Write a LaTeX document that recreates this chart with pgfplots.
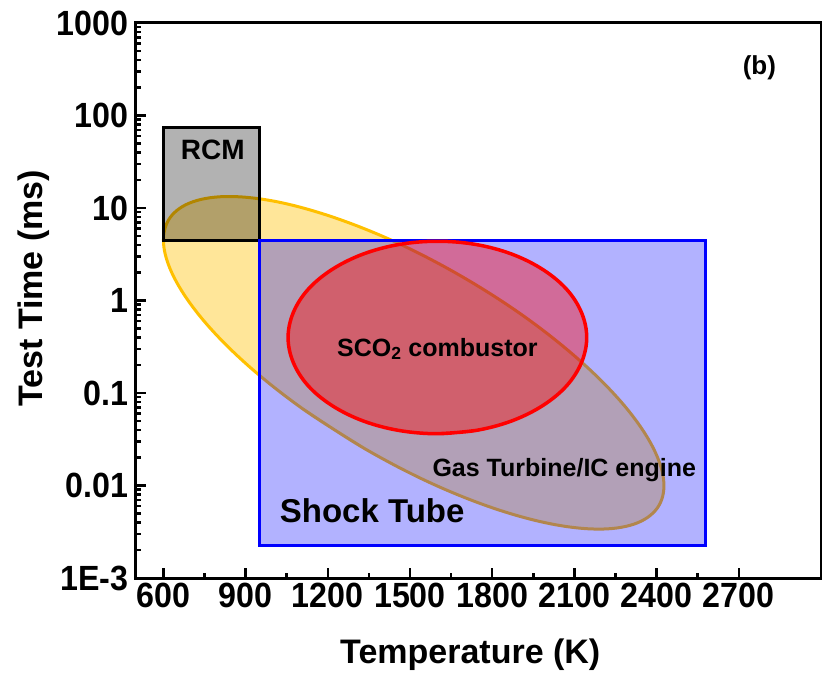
\documentclass[border=0pt]{standalone}
\usepackage{pgfplots}
\pgfplotsset{compat=1.18}
\usepackage{fontspec}
\setmainfont{Liberation Sans}
\newfontfamily\tickfont{Liberation Sans}[FakeStretch=0.92]

\definecolor{gtfill}{RGB}{255,230,153}
\definecolor{gtline}{RGB}{255,192,0}

\begin{document}
\begin{tikzpicture}
\useasboundingbox (-136bp,-100bp) rectangle (686bp,578bp);
\begin{axis}[
    scale only axis,
    width=685bp, height=555bp,
    xmin=500, xmax=3000,
    ymin=1e-3, ymax=1e3,
    ymode=log,
    axis line style={line width=3bp},
    tick style={line width=2.5bp, black},
    major tick length=10bp,
    minor tick length=5bp,
    tick align=inside,
    xtick pos=left, ytick pos=left,
    xtick={600,900,1200,1500,1800,2100,2400,2700},
    xticklabels={600,900,1200,1500,1800,2100,2400,2700},
    minor x tick num=1,
    ytick={1e-3,1e-2,1e-1,1,10,100,1000},
    yticklabels={1E-3,0.01,0.1,1,10,100,1000},
    tick label style={font=\tickfont\fontsize{35bp}{40bp}\selectfont\bfseries},
    xticklabel style={yshift=-2bp},
    yticklabel style={xshift=-4bp},
    label style={font=\fontsize{34bp}{40bp}\selectfont\bfseries},
    xlabel={Temperature (K)},
    ylabel={Test Time (ms)},
    xlabel style={at={(axis description cs:0.488,-0.139)}, anchor=center},
    ylabel style={at={(axis description cs:-0.150,0.522)}, anchor=center},
]

% gas turbine / IC engine region
\addplot[draw=gtline, line width=3bp, fill=gtfill, smooth, tension=0.6]
    coordinates {
    (1334,0.0251)(1108,0.0676)(910,0.197)(753,0.577)
    (648,1.58)(602,3.75)(618,7.36)(695,11.3)(827,13.3)(1007,11.8)
    (1221,7.93)(1455,4.18)(1693,1.79)(1919,0.665)(2117,0.228)
    (2274,0.078)(2379,0.0285)(2425,0.01194)(2409,0.00611)
    (2332,0.00397)(2200,0.00338)(2020,0.00382)(1806,0.00567)
    (1572,0.01076)(1334,0.0251)(1108,0.0676)
    };

% RCM
\addplot[draw=black, line width=3bp, fill=black, fill opacity=0.3, sharp plot]
    coordinates {(600,4.5)(950,4.5)(950,75)(600,75)} -- cycle;

% shock tube
\addplot[draw=blue, line width=3bp, fill=blue, fill opacity=0.3, sharp plot]
    coordinates {(950,0.00227)(2580,0.00227)(2580,4.5)(950,4.5)} -- cycle;

% SCO2 combustor
\addplot[draw=red, line width=3.5bp, fill=red, fill opacity=0.4, smooth, tension=0.6]
    coordinates {
    (1600,0.0363)(1741,0.0394)(1872,0.0500)(1985,0.0733)(2072,0.120)
    (2126,0.214)(2145,0.398)(2126,0.740)(2072,1.318)(1985,2.16)
    (1872,3.17)(1741,4.03)(1600,4.37)(1459,4.03)(1328,3.17)(1215,2.16)
    (1128,1.318)(1074,0.740)(1055,0.398)(1074,0.214)(1128,0.120)
    (1215,0.0733)(1328,0.0500)(1459,0.0394)(1600,0.0363)(1741,0.0394)
    };

\node[font=\fontsize{28bp}{32bp}\selectfont\bfseries] at (axis cs:780,42) {RCM};
\node[font=\fontsize{25bp}{30bp}\selectfont\bfseries] at (axis cs:1600,0.30) {SCO\textsubscript{2} combustor};
\node[font=\fontsize{25bp}{30bp}\selectfont\bfseries] at (axis cs:2063,0.0147) {Gas Turbine/IC engine};
\node[font=\fontsize{33bp}{38bp}\selectfont\bfseries] at (axis cs:1362,0.0054) {Shock Tube};
\node[font=\fontsize{26bp}{30bp}\selectfont\bfseries] at (axis cs:2775,327) {(b)};
\end{axis}
\end{tikzpicture}
\end{document}
